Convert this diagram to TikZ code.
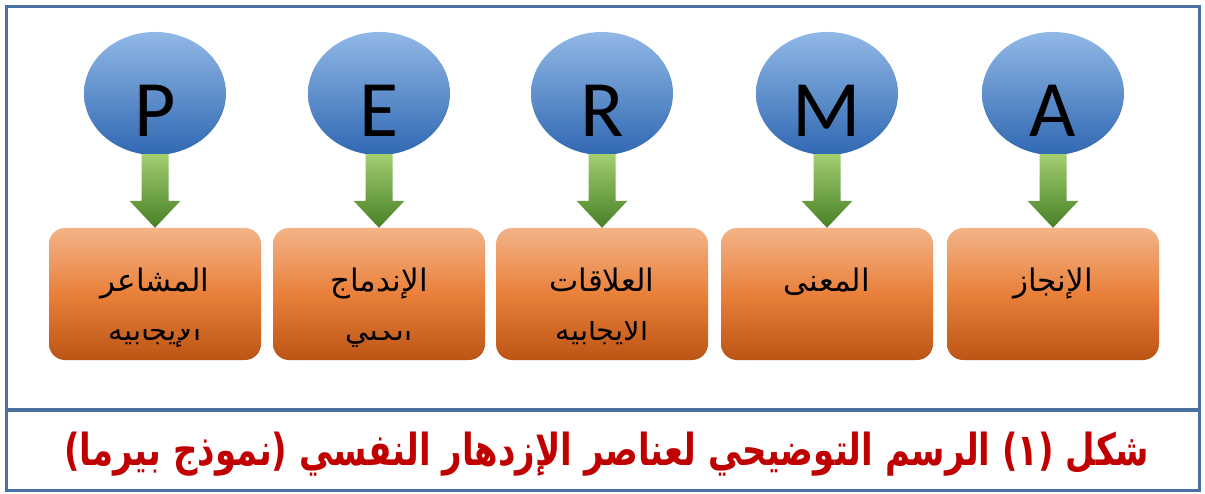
\documentclass[tikz,border=0pt]{standalone}
\usepackage{fontspec}
\usepackage{graphicx}
\setmainfont{Carlito}
\newfontfamily\arabicfont[Script=Arabic]{DejaVu Sans}
\TeXXeTstate=1
\usetikzlibrary{shapes.geometric,calc}
\definecolor{frameblue}{RGB}{74,112,162}
\definecolor{ballTop}{RGB}{145,184,230}
\definecolor{ballBot}{RGB}{48,104,178}
\definecolor{boxTop}{RGB}{243,180,136}
\definecolor{boxMid}{RGB}{233,128,58}
\definecolor{boxBot}{RGB}{188,84,20}
\definecolor{arrTop}{RGB}{162,206,112}
\definecolor{arrBot}{RGB}{72,128,38}
\definecolor{capred}{RGB}{192,0,0}
\begin{document}
\begin{tikzpicture}[x=1pt,y=-1pt,
  letterball/.style={ellipse, minimum width=142pt, minimum height=123pt, inner sep=0pt,
    top color=ballTop, bottom color=ballBot, font=\fontsize{80}{80}\selectfont},
  pillarbox/.style={rectangle, rounded corners=16pt, minimum width=212pt, minimum height=132pt,
    inner sep=0pt, top color=boxTop, bottom color=boxBot, middle color=boxMid},
  arrowshade/.style={top color=arrTop, bottom color=arrBot},
  mainword/.style={anchor=base, inner sep=0pt, font=\fontsize{31}{31}\selectfont},
  subword/.style={anchor=base, inner sep=0pt, font=\fontsize{29}{29}\selectfont},
  captiontext/.style={inner sep=0pt, text=capred}
]
\useasboundingbox (0,0) rectangle (1205,494);
\fill[white] (0,0) rectangle (1205,494);
% frame
\draw[frameblue, line width=3pt] (6.5,6.5) rectangle (1199.5,490);
\draw[frameblue, line width=4pt] (6.5,410) -- (1199.5,410);

% balls, boxes and arrows
\foreach \n/\x/\t in {P/155/P, E/379/E, R/602/R, M/827/M, A/1053/A}{
  \node[letterball] (c\n) at (\x,93.5) {\raisebox{-43pt}[0pt][0pt]{\t}};
  \node[pillarbox] (b\n) at (\x,294) {};
  \path[arrowshade] ($(c\n.south)+(-13.5,-1)$) -- ($(c\n.south)+(13.5,-1)$)
     -- ($(b\n.north)+(13.5,-27)$) -- ($(b\n.north)+(25.5,-27)$) -- (b\n.north)
     -- ($(b\n.north)+(-25.5,-27)$) -- ($(b\n.north)+(-13.5,-27)$) -- cycle;
}

% first lines
\node[mainword] (wP) at ($(bP.center)+(0,-2)$) {\arabicfont\beginR المشاعر\endR};
\node[mainword] (wE) at ($(bE.center)+(0,-2)$) {\arabicfont\beginR الإندماج\endR};
\node[mainword] (wR) at ($(bR.center)+(0,-2)$) {\arabicfont\beginR العلاقات\endR};
\node[mainword] (wM) at ($(bM.center)+(0,-2)$) {\arabicfont\beginR المعنى\endR};
\node[mainword] (wA) at ($(bA.center)+(0,-2)$) {\arabicfont\beginR الإنجاز\endR};

% second lines, shown cut off as in the picture
\begin{scope}
  \clip ($(bP.center)+(-100,36)$) rectangle ($(bP.center)+(100,54)$);
  \node[subword] (sP) at ($(bP.center)+(0,47)$) {\arabicfont\beginR الإيجابية\endR};
\end{scope}
\begin{scope}
  \clip ($(bE.center)+(-100,38)$) rectangle ($(bE.center)+(100,54)$);
  \node[subword] (sE) at ($(bE.center)+(0,47)$) {\arabicfont\beginR الكلي\endR};
\end{scope}
\begin{scope}
  \clip ($(bR.center)+(-100,28)$) rectangle ($(bR.center)+(100,54)$);
  \node[subword] (sR) at ($(bR.center)+(0,47)$) {\arabicfont\beginR الايجابيه\endR};
\end{scope}

% caption
\node[captiontext] (cap) at (607,454) {\scalebox{1}[1.3]{\resizebox{1085pt}{!}{\arabicfont\bfseries\beginR شكل (١) الرسم التوضيحي لعناصر الإزدهار النفسي (نموذج بيرما)\endR}}};
\end{tikzpicture}
\end{document}
